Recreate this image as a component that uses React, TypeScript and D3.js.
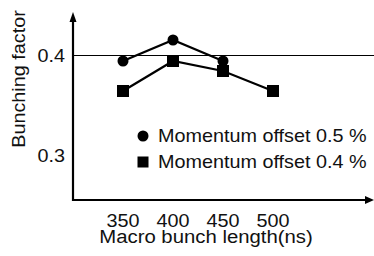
import React, { useRef, useEffect } from "react";
import { select, scaleLinear, line } from "d3";

// values
const lengths = [350, 400, 450, 500];
const offset05 = [0.394, 0.415, 0.394];
const offset04 = [0.364, 0.394, 0.384, 0.364];
const yTicks = [0.3, 0.4];
const legendLabels = ["Momentum offset 0.5 %", "Momentum offset 0.4 %"];
const xTitle = "Macro bunch length(ns)";
const yTitle = "Bunching factor";

const width = 374;
const height = 256;
const font = "Liberation Sans, Arial, Helvetica, sans-serif";

function App() {
  const svgRef = useRef<SVGSVGElement>(null);

  useEffect(() => {
    const svg = select(svgRef.current);
    svg.selectAll("*").remove();

    const x = scaleLinear().domain([300, 600]).range([73, 373]);
    const y = scaleLinear().domain([0.255, 0.442]).range([200, 13]);
    const x0 = x(300);
    const y0 = y(0.255);

    // text is a bit wide in the original, stretch along the baseline
    const label = (tx: number, ty: number, s: string, anchor: string, rot = 0, sx = 1.1) =>
      svg
        .append("text")
        .attr("transform", `translate(${tx},${ty}) rotate(${rot}) scale(${sx},1)`)
        .attr("text-anchor", anchor)
        .attr("font-family", font)
        .attr("font-size", 18)
        .attr("fill", "#111")
        .text(s);

    // reference line at 0.4
    svg
      .append("line")
      .attr("x1", x0)
      .attr("x2", width)
      .attr("y1", y(0.4) + 0.5)
      .attr("y2", y(0.4) + 0.5)
      .attr("stroke", "#000")
      .attr("stroke-width", 1);

    // axes with arrows
    svg.append("line").attr("x1", x0).attr("x2", x0).attr("y1", y0 + 1).attr("y2", 20)
      .attr("stroke", "#000").attr("stroke-width", 2.2);
    svg.append("line").attr("x1", x0 - 1).attr("x2", width - 6).attr("y1", y0).attr("y2", y0)
      .attr("stroke", "#000").attr("stroke-width", 2.2);
    svg.append("path").attr("d", `M${x0 - 3.5},22 L${x0},12 L${x0 + 3.5},22 Z`).attr("fill", "#000");
    svg.append("path").attr("d", `M${width - 9},${y0 - 4} L${width},${y0} L${width - 9},${y0 + 4} Z`).attr("fill", "#000");

    yTicks.forEach((t) => label(65, y(t) + 6.5, String(t), "end"));
    lengths.forEach((v) => label(x(v), 227, String(v), "middle"));
    label(206, 243, xTitle, "middle", 0, 1.13);
    label(25, 79, yTitle, "middle", -90);

    const ln = line<number>()
      .x((d, i) => x(lengths[i]))
      .y((d) => y(d));

    svg.append("path").attr("d", ln(offset05)).attr("fill", "none")
      .attr("stroke", "#000").attr("stroke-width", 2.2);
    svg.append("path").attr("d", ln(offset04)).attr("fill", "none")
      .attr("stroke", "#000").attr("stroke-width", 2.2);

    svg.selectAll(".dot").data(offset05).join("circle").attr("class", "dot")
      .attr("cx", (d, i) => x(lengths[i]))
      .attr("cy", (d) => y(d))
      .attr("r", 5.5)
      .attr("fill", "#000");

    svg.selectAll(".sq").data(offset04).join("rect").attr("class", "sq")
      .attr("x", (d, i) => x(lengths[i]) - 6)
      .attr("y", (d) => y(d) - 6)
      .attr("width", 12)
      .attr("height", 12)
      .attr("fill", "#000");

    // legend
    svg.append("circle").attr("cx", 143).attr("cy", 136).attr("r", 5.5).attr("fill", "#000");
    svg.append("rect").attr("x", 137.5).attr("y", 156.5).attr("width", 11).attr("height", 11).attr("fill", "#000");
    label(158, 142, legendLabels[0], "start");
    label(158, 168, legendLabels[1], "start");
  }, []);

  return (
    <svg
      ref={svgRef}
      width={width}
      height={height}
      style={{ position: "absolute", left: 0, top: 0, background: "#fff" }}
    />
  );
}

export default App;
